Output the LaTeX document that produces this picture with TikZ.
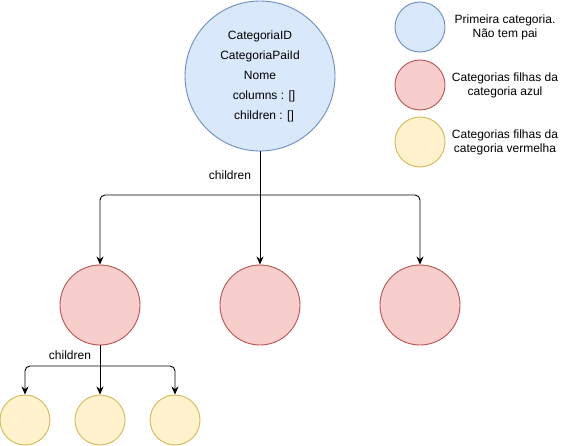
\documentclass[tikz,border=0pt]{standalone}
\usepackage{fontspec}
\setmainfont{Liberation Sans}
\usetikzlibrary{arrows.meta}

\definecolor{blueFill}{HTML}{DAE8FC}
\definecolor{blueLine}{HTML}{6C8EBF}
\definecolor{redFill}{HTML}{F8CECC}
\definecolor{redLine}{HTML}{B85450}
\definecolor{yellowFill}{HTML}{FFF2CC}
\definecolor{yellowLine}{HTML}{D6B656}

\begin{document}
\begin{tikzpicture}[x=1pt, y=-1pt]
	\tikzstyle{cat} = [
		circle, inner sep=0pt, line width=0.9pt
	]
	\tikzstyle{cat_blue} = [
		cat, fill=blueFill, draw=blueLine
	]
	\tikzstyle{cat_red} = [
		cat, fill=redFill, draw=redLine
	]
	\tikzstyle{cat_yellow} = [
		cat, fill=yellowFill, draw=yellowLine
	]
	\tikzstyle{legend} = [
		align=center, font=\fontsize{12}{14}\selectfont
	]
	\tikzstyle{caption} = [
		font=\fontsize{12}{14}\selectfont
	]
	\tikzstyle{conn} = [
		-{Stealth[length=8pt, width=7pt, inset=2.5pt]}, line width=0.9pt, rounded corners=5pt
	]

	\useasboundingbox (0,0) rectangle (561,446);

	% Root
	\node (Root) [cat_blue, minimum size=150pt, align=center, font=\fontsize{12}{20}\selectfont] at (260,76)
		{CategoriaID\\CategoriaPaiId\\Nome\\\hspace{8pt}columns : []\\\hspace{8pt}children : []};

	% Filhas (vermelho)
	\node (RedA) [cat_red, minimum size=80pt] at (100,305) {};
	\node (RedB) [cat_red, minimum size=80pt] at (260,305) {};
	\node (RedC) [cat_red, minimum size=80pt] at (420,305) {};

	% Netas (amarelo)
	\node (YellowA) [cat_yellow, minimum size=50pt] at (25,420) {};
	\node (YellowB) [cat_yellow, minimum size=50pt] at (100,420) {};
	\node (YellowC) [cat_yellow, minimum size=50pt] at (175,420) {};

	% Legenda
	\node (LegBlue)   [cat_blue, minimum size=50pt]   at (420,27)  {};
	\node (LegRed)    [cat_red, minimum size=50pt]    at (420,85)  {};
	\node (LegYellow) [cat_yellow, minimum size=50pt] at (420,142) {};
	\node (LegBlueText)   [legend] at (505,27)  {Primeira categoria.\\Não tem pai};
	\node (LegRedText)    [legend] at (505,85)  {Categorias filhas da\\categoria azul};
	\node (LegYellowText) [legend] at (505,142) {Categorias filhas da\\categoria vermelha};

	% Root -> filhas
	\coordinate (split1) at (Root.south |- 0,195);
	\draw[conn] (Root.south) -- (RedB.north);
	\draw[conn] (split1) -| (RedA.north);
	\draw[conn] (split1) -| (RedC.north);
	\node (Children1) [caption] at (230,175) {children};

	% RedA -> netas
	\coordinate (split2) at (RedA.south |- 0,366);
	\draw[conn] (RedA.south) -- (YellowB.north);
	\draw[conn] (split2) -| (YellowA.north);
	\draw[conn] (split2) -| (YellowC.north);
	\node (Children2) [caption] at (70,355) {children};
\end{tikzpicture}
\end{document}
